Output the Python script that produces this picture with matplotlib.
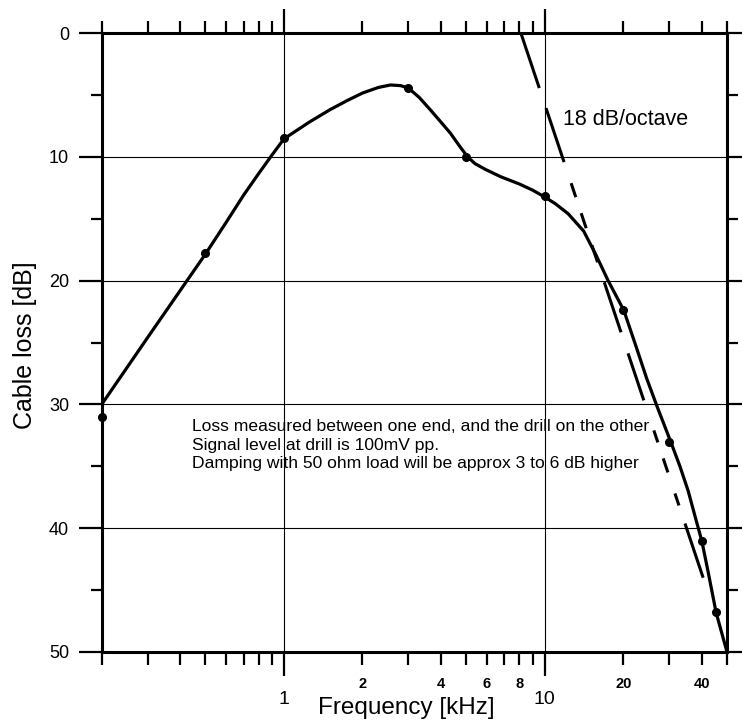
import matplotlib
matplotlib.use("Agg")
import matplotlib.pyplot as plt

plt.rcParams['font.family'] = ['Liberation Sans', 'DejaVu Sans']
plt.rcParams['lines.scale_dashes'] = False

# Measured cable loss curve
freq = [0.2, 0.3, 0.4, 0.5, 0.6, 0.7, 0.8, 0.9, 1.0, 1.25, 1.5, 1.75, 2.0, 2.3, 2.56, 2.8, 3.0,
        3.3, 3.64, 4.0, 4.35, 4.7, 5.06, 5.4, 5.9, 6.76, 8.0, 9.0, 10.0, 11.0, 12.3, 14.1,
        15.7, 17.5, 20.1, 22.3, 24.6, 27.0, 30.4, 33.0, 35.5, 38.0, 40.0, 42.3, 45.4, 50.0]
loss = [30.0, 24.6, 20.8, 17.85, 15.3, 13.1, 11.35, 9.85, 8.55, 7.2, 6.2, 5.45, 4.85, 4.4, 4.2,
        4.25, 4.45, 5.2, 6.2, 7.2, 8.1, 9.1, 10.0, 10.55, 11.0, 11.6, 12.2, 12.7, 13.25, 13.8,
        14.6, 16.0, 17.9, 20.0, 22.4, 25.2, 27.9, 30.2, 33.0, 35.0, 37.0, 39.3, 41.0, 43.5,
        46.8, 50.0]

# measurement points (dots)
mk_freq = [0.2, 0.5, 1, 3, 5, 10, 20, 30, 40, 45.5]
mk_loss = [31.0, 17.8, 8.5, 4.45, 10.0, 13.2, 22.4, 33.0, 41.0, 46.8]

# 18 dB/octave reference line
slope_freq = [8.1, 40.5]
slope_loss = [0, 44]

x_major = [1, 10]
x_major_labels = ['1', '10']
x_minor = [0.2, 0.3, 0.4, 0.5, 0.6, 0.7, 0.8, 0.9, 2, 3, 4, 5, 6, 7, 8, 9, 20, 30, 40, 50]
x_minor_labels = ['', '', '', '', '', '', '', '', '2', '', '4', '', '6', '', '8', '',
                  '20', '', '40', '']
y_major = [0, 10, 20, 30, 40, 50]
y_minor = [5, 15, 25, 35, 45]

note = ("Loss measured between one end, and the drill on the other\n"
        "Signal level at drill is 100mV pp.\n"
        "Damping with 50 ohm load will be approx 3 to 6 dB higher")

fig = plt.figure(figsize=(7.42, 7.25), dpi=100)
ax = fig.add_axes([101.7 / 742, 1 - 652 / 725, (727 - 101.7) / 742, (652 - 33) / 725])

ax.set_xscale('log')
ax.set_xlim(0.2, 50)
ax.set_ylim(50, 0)

ax.plot(freq, loss, color='black', lw=2.3, solid_capstyle='round', solid_joinstyle='round')
ax.plot(mk_freq, mk_loss, 'o', color='black', ms=5.5, clip_on=False)

# hand drawn looking dash pattern (pixels along the line)
dash_px = [55, 20, 54, 21, 14, 16, 15, 17, 17, 20, 50, 21, 47, 30, 12, 16, 14, 21, 12, 18, 60]
ax.plot(slope_freq, slope_loss, color='black', lw=2.2,
        dashes=[d * 0.76 for d in dash_px], dash_capstyle='butt')

ax.text(11.8, 7.0, '18 dB/octave', fontsize=15.5, va='center', ha='left')
ax.text(0.443, 31.2, note, fontsize=12.6, va='top', ha='left', linespacing=1.3)

ax.set_xticks(x_major)
ax.set_xticklabels(x_major_labels)
ax.set_xticks(x_minor, minor=True)
ax.set_xticklabels(x_minor_labels, minor=True, fontweight='bold')
ax.set_yticks(y_major)
ax.set_yticks(y_minor, minor=True)

ax.tick_params(axis='both', which='both', direction='out', width=1.6, color='black')
ax.tick_params(axis='x', which='major', length=17, labelsize=14, pad=11, top=True)
ax.tick_params(axis='x', which='minor', length=9, labelsize=10.5, pad=9, top=True)
ax.tick_params(axis='y', which='major', length=16.5, labelsize=13, pad=7, right=True)
ax.tick_params(axis='y', which='minor', length=8, right=True)

for s in ax.spines.values():
    s.set_linewidth(2.2)

ax.grid(which='major', color='black', lw=0.8)

fig.text(406 / 742, 1 - 708 / 725, 'Frequency [kHz]', fontsize=17.5, ha='center', va='center')
fig.text(25 / 742, 1 - 345 / 725, 'Cable loss [dB]', fontsize=18, rotation=90,
         ha='center', va='center')

fig.savefig('out.png', dpi=100)
